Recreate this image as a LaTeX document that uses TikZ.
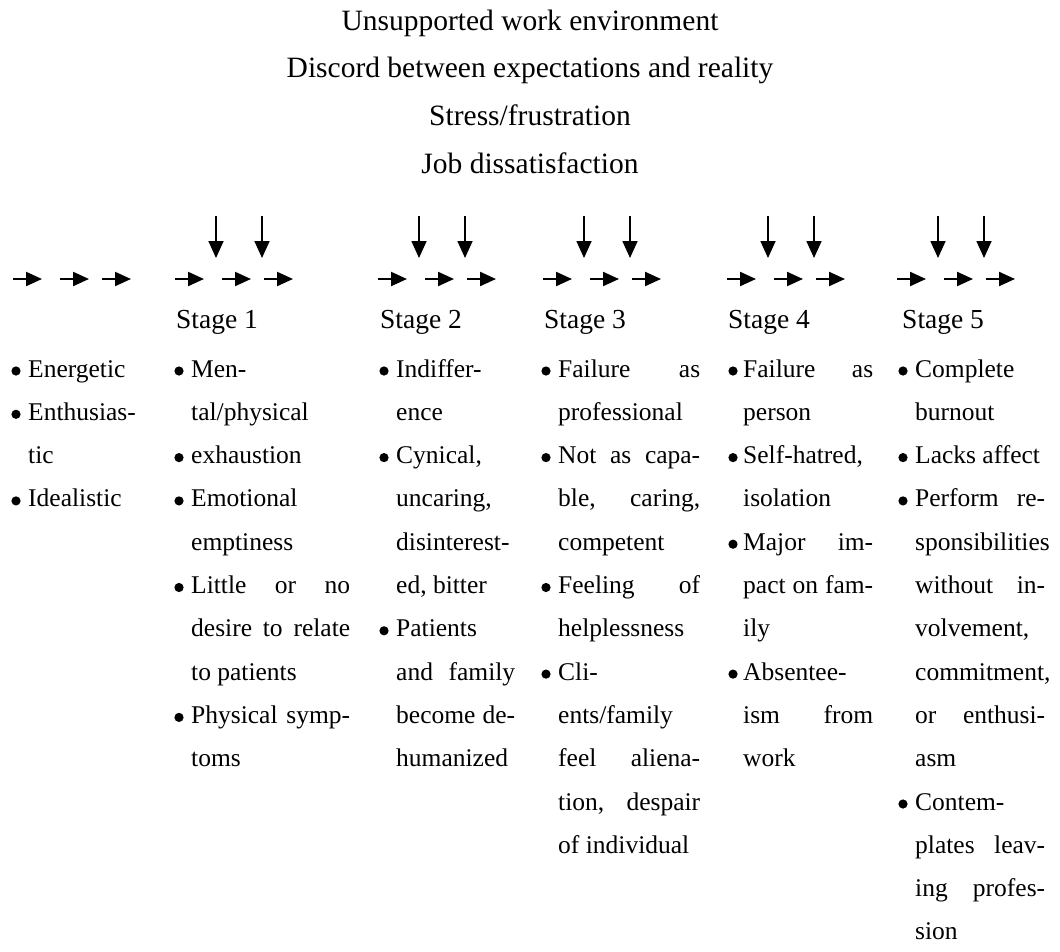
\documentclass[tikz,border=0pt]{standalone}
\usepackage{fontspec}
\setmainfont{Liberation Serif}
\usetikzlibrary{arrows.meta}

\tikzset{
  hd/.style={font=\fontsize{29.5}{30}\selectfont, anchor=base, inner sep=0pt},
  stg/.style={font=\fontsize{27.5}{28}\selectfont, anchor=base west, inner sep=0pt},
  itm/.style={font=\fontsize{25.5}{26}\selectfont, anchor=base west, inner sep=0pt},
  harr/.style={line width=2.2pt, -{Triangle[length=16pt,width=14pt]}},
  varr/.style={line width=1.7pt, -{Triangle[length=17pt,width=15pt]}}
}

% one text line: name, x, row, text
\newcommand{\pl}[4]{\node[itm] (#1) at (#2,{377+43.3*(#3-1)}) {#4};}
% justified line: name, x, row, width, text
\newcommand{\jl}[5]{\node[itm] (#1) at (#2,{377+43.3*(#3-1)}) {\makebox[#4pt][s]{#5}};}
% bullet: x, row
\newcommand{\bl}[2]{\fill (#1,{371+43.3*(#2-1)}) circle (4.6pt);}

\begin{document}
\begin{tikzpicture}[x=1pt,y=-1pt]
\useasboundingbox (0,0) rectangle (1060,951);

% causes
\node[hd] (c1) at (530,30) {Unsupported work environment};
\node[hd] (c2) at (530,77) {Discord between expectations and reality};
\node[hd] (c3) at (530,125) {Stress/frustration};
\node[hd] (c4) at (530,173) {Job dissatisfaction};

% arrows
\foreach \g in {13,175,378,543,727,897} {
  \draw[harr] (\g,279) -- ++(29,0);
  \draw[harr] (\g+47,279) -- ++(29,0);
  \draw[harr] (\g+89,279) -- ++(29,0);
}
\foreach \g in {175,378,543,727,897} {
  \draw[varr] (\g+41,216) -- ++(0,42);
  \draw[varr] (\g+87,216) -- ++(0,42);
}

\node[stg] (s1) at (176,328) {Stage 1};
\node[stg] (s2) at (380,328) {Stage 2};
\node[stg] (s3) at (544,328) {Stage 3};
\node[stg] (s4) at (728,328) {Stage 4};
\node[stg] (s5) at (902,328) {Stage 5};

% before
\bl{16}{1} \pl{a1}{28}{1}{Energetic}
\bl{16}{2} \pl{a2}{28}{2}{Enthusias-}
\pl{a3}{28}{3}{tic}
\bl{16}{4} \pl{a4}{28}{4}{Idealistic}

% stage 1
\bl{179}{1} \pl{b1}{191}{1}{Men-}
\pl{b2}{191}{2}{tal/physical}
\bl{179}{3} \pl{b3}{191}{3}{exhaustion}
\bl{179}{4} \pl{b4}{191}{4}{Emotional}
\pl{b5}{191}{5}{emptiness}
\bl{179}{6} \jl{b6}{191}{6}{159}{Little or no}
\jl{b7}{191}{7}{159}{desire to relate}
\pl{b8}{191}{8}{to patients}
\bl{179}{9} \jl{b9}{191}{9}{159}{Physical symp-}
\pl{b10}{191}{10}{toms}

% stage 2
\bl{384}{1} \pl{d1}{396}{1}{Indiffer-}
\pl{d2}{396}{2}{ence}
\bl{384}{3} \pl{d3}{396}{3}{Cynical,}
\pl{d4}{396}{4}{uncaring,}
\pl{d5}{396}{5}{disinterest-}
\pl{d6}{396}{6}{ed, bitter}
\bl{384}{7} \pl{d7}{396}{7}{Patients}
\jl{d8}{396}{8}{119}{and family}
\jl{d9}{396}{9}{119}{become de-}
\pl{d10}{396}{10}{humanized}

% stage 3
\bl{546}{1} \jl{e1}{558}{1}{142}{Failure as}
\pl{e2}{558}{2}{professional}
\bl{546}{3} \jl{e3}{558}{3}{142}{Not as capa-}
\jl{e4}{558}{4}{142}{ble, caring,}
\pl{e5}{558}{5}{competent}
\bl{546}{6} \jl{e6}{558}{6}{142}{Feeling of}
\pl{e7}{558}{7}{helplessness}
\bl{546}{8} \pl{e8}{558}{8}{Cli-}
\pl{e9}{558}{9}{ents/family}
\jl{e10}{558}{10}{142}{feel aliena-}
\jl{e11}{558}{11}{142}{tion, despair}
\pl{e12}{558}{12}{of individual}

% stage 4
\bl{733}{1} \jl{f1}{743}{1}{130}{Failure as}
\pl{f2}{743}{2}{person}
\bl{733}{3} \pl{f3}{743}{3}{Self-hatred,}
\pl{f4}{743}{4}{isolation}
\bl{733}{5} \jl{f5}{743}{5}{130}{Major im-}
\jl{f6}{743}{6}{130}{pact on fam-}
\pl{f7}{743}{7}{ily}
\bl{733}{8} \pl{f8}{743}{8}{Absentee-}
\jl{f9}{743}{9}{130}{ism from}
\pl{f10}{743}{10}{work}

% stage 5
\bl{903}{1} \pl{g1}{915}{1}{Complete}
\pl{g2}{915}{2}{burnout}
\bl{903}{3} \pl{g3}{915}{3}{Lacks affect}
\bl{903}{4} \jl{g4}{915}{4}{130}{Perform re-}
\pl{g5}{915}{5}{sponsibilities}
\jl{g6}{915}{6}{130}{without in-}
\pl{g7}{915}{7}{volvement,}
\pl{g8}{915}{8}{commitment,}
\jl{g9}{915}{9}{130}{or enthusi-}
\pl{g10}{915}{10}{asm}
\bl{903}{11} \pl{g11}{915}{11}{Contem-}
\jl{g12}{915}{12}{130}{plates leav-}
\jl{g13}{915}{13}{130}{ing profes-}
\pl{g14}{915}{14}{sion}
\end{tikzpicture}
\end{document}
